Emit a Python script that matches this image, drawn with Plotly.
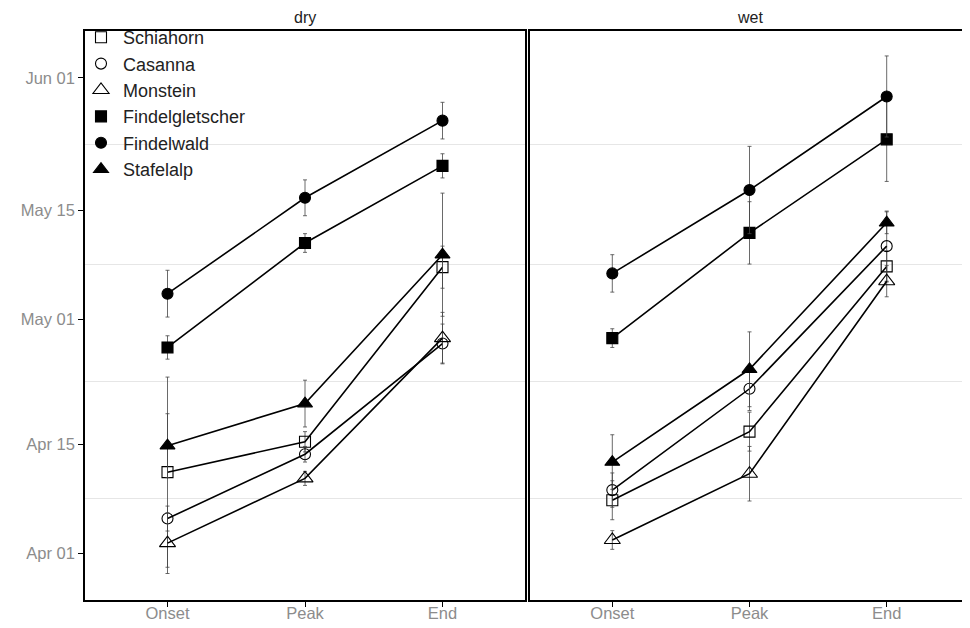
import plotly.graph_objects as go

# ---- data (days after Apr 01) ----
stages = ["Onset", "Peak", "End"]
sites = ["Schiahorn", "Casanna", "Monstein", "Findelgletscher", "Findelwald", "Stafelalp"]
symbols = ["square-open", "circle-open", "triangle-up-open", "square", "circle", "triangle-up"]
marker_sizes = [11, 11, 14, 11, 11, 13]

dry_schiahorn = [10.4, 14.3, 36.7]
dry_casanna = [4.45, 12.7, 26.9]
dry_monstein = [1.3, 9.6, 27.6]
dry_findelgletscher = [26.4, 39.8, 49.7]
dry_findelwald = [33.3, 45.6, 55.5]
dry_stafelalp = [13.8, 19.2, 38.3]

dry_err_schiahorn = [12.2, 1.3, 2.7]
dry_err_casanna = [1.6, 1.0, 2.5]
dry_err_monstein = [3.9, 0.9, 3.3]
dry_err_findelgletscher = [1.5, 1.2, 1.55]
dry_err_findelwald = [3.0, 2.3, 2.35]
dry_err_stafelalp = [4.1, 3.0, 7.9]

wet_schiahorn = [6.8, 15.6, 36.8]
wet_casanna = [8.1, 21.1, 39.4]
wet_monstein = [1.7, 10.2, 34.9]
wet_findelgletscher = [27.6, 41.1, 53.1]
wet_findelwald = [35.9, 46.6, 58.6]
wet_stafelalp = [11.7, 23.6, 42.4]

wet_err_schiahorn = [2.5, 2.5, 2.0]
wet_err_casanna = [2.2, 2.8, 4.5]
wet_err_monstein = [1.2, 3.5, 2.0]
wet_err_findelgletscher = [1.2, 4.0, 5.4]
wet_err_findelwald = [2.4, 5.6, 5.2]
wet_err_stafelalp = [3.5, 4.8, 1.4]

y_tick_vals = [0, 14, 30, 44, 61]
y_tick_text = ["Apr 01", "Apr 15", "May 01", "May 15", "Jun 01"]
y_minor_vals = [7, 22, 37, 52.5]

dry = [dry_schiahorn, dry_casanna, dry_monstein, dry_findelgletscher, dry_findelwald, dry_stafelalp]
dry_err = [dry_err_schiahorn, dry_err_casanna, dry_err_monstein, dry_err_findelgletscher, dry_err_findelwald, dry_err_stafelalp]
wet = [wet_schiahorn, wet_casanna, wet_monstein, wet_findelgletscher, wet_findelwald, wet_stafelalp]
wet_err = [wet_err_schiahorn, wet_err_casanna, wet_err_monstein, wet_err_findelgletscher, wet_err_findelwald, wet_err_stafelalp]

xpos = list(range(len(stages)))

fig = go.Figure()

for panel, (vals, errs) in enumerate([(dry, dry_err), (wet, wet_err)]):
    xa = "x" if panel == 0 else "x2"
    ya = "y" if panel == 0 else "y2"
    for i, site in enumerate(sites):
        fig.add_trace(go.Scatter(
            x=xpos, y=vals[i], xaxis=xa, yaxis=ya,
            mode="lines+markers", name=site, showlegend=False,
            line=dict(color="black", width=1.6),
            marker=dict(symbol=symbols[i], size=marker_sizes[i], color="black",
                        line=dict(color="black", width=1.1)),
            error_y=dict(type="data", array=errs[i], visible=True,
                         color="#444444", thickness=0.8, width=2),
        ))

# legend-only entries (markers only)
for i, site in enumerate(sites):
    fig.add_trace(go.Scatter(
        x=[None], y=[None], mode="markers", name=site,
        legendgroup=site,
        marker=dict(symbol=symbols[i], size=marker_sizes[i], color="black",
                    line=dict(color="black", width=1.1)),
    ))

# the page adds an 8px body margin, so the figure is drawn 8px in from the corner
W, H = 962, 620
ml, mr, mt, mb = 77, 1, 23, 28
pw = W - ml - mr
ph = H - mt - mb
d1 = [0, 440 / pw]
d2 = [445 / pw, 1]

FONT = "Liberation Sans, Arial"
axis_common = dict(showline=True, mirror=True, linecolor="black", linewidth=1.5,
                   zeroline=False)
xcommon = dict(axis_common, range=[-0.6, 2.6], tickvals=xpos, ticktext=stages,
               ticks="outside", ticklen=5, tickcolor="black", showgrid=False,
               ticklabelstandoff=-8,
               tickfont=dict(family=FONT, size=16.5, color="#8c8c8c"))
ycommon = dict(axis_common, range=[-6, 67], tickvals=y_tick_vals, showgrid=False,
               minor=dict(tickvals=y_minor_vals, showgrid=True, gridcolor="#e6e6e6",
                          gridwidth=1, ticklen=0))

fig.update_layout(
    width=W, height=H,
    margin=dict(l=ml, r=mr, t=mt, b=mb, autoexpand=False),
    paper_bgcolor="white", plot_bgcolor="white",
    font=dict(family=FONT, size=16, color="#222222"),
    xaxis=dict(xcommon, domain=d1, anchor="y"),
    xaxis2=dict(xcommon, domain=d2, anchor="y2"),
    yaxis=dict(ycommon, domain=[0, 1], anchor="x", ticktext=y_tick_text,
               ticks="outside", ticklen=5, tickcolor="black",
               tickfont=dict(family=FONT, size=16.5, color="#8c8c8c")),
    yaxis2=dict(ycommon, domain=[0, 1], anchor="x2", matches="y",
                showticklabels=False, ticks=""),
    legend=dict(x=-6 / pw, y=1 + 12 / ph, xanchor="left", yanchor="top",
                bgcolor="rgba(0,0,0,0)", traceorder="grouped", tracegroupgap=0,
                font=dict(family=FONT, size=18, color="#222222"), itemwidth=34),
    showlegend=True,
    annotations=[
        dict(text="dry", x=(d1[0] + d1[1]) / 2, y=1, xref="paper", yref="paper",
             xanchor="center", yanchor="bottom", yshift=3, showarrow=False,
             font=dict(family=FONT, size=16, color="#222222")),
        dict(text="wet", x=(d2[0] + d2[1]) / 2, y=1, xref="paper", yref="paper",
             xanchor="center", yanchor="bottom", yshift=3, showarrow=False,
             font=dict(family=FONT, size=16, color="#222222")),
    ],
)

fig.write_html("out.html")
